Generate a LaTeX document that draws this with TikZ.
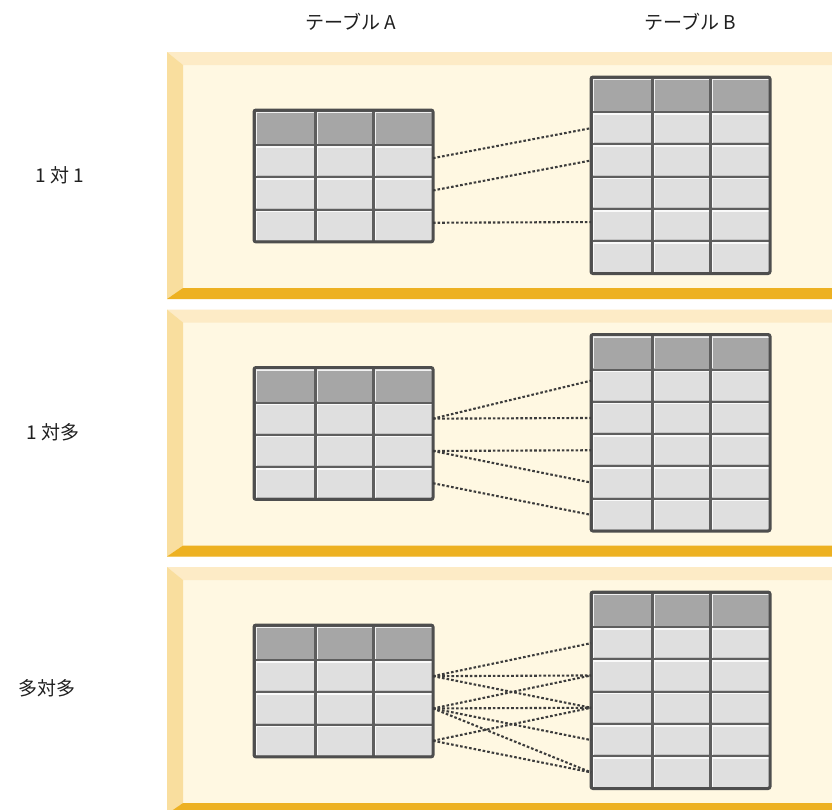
\documentclass[tikz,border=0pt]{standalone}
\usepackage{fontspec}
\setmainfont{Noto Sans CJK JP}
\definecolor{cream}{HTML}{FFF8E2}
\definecolor{topband}{HTML}{FDEBC6}
\definecolor{leftband}{HTML}{F9DE9E}
\definecolor{botband}{HTML}{EDB122}
\definecolor{hdrcell}{HTML}{A6A6A6}
\definecolor{bodycell}{HTML}{DFDFDF}
\definecolor{gridc}{HTML}{5E5E5E}
\definecolor{borderc}{HTML}{4E4E4E}
\definecolor{linkc}{HTML}{3C3C3C}
\definecolor{txtc}{HTML}{202020}
\tikzset{
  lbl/.style={font=\fontsize{19}{22}\selectfont, text=txtc, inner sep=0pt},
  link/.style={draw=linkc, line width=2.1pt, dash pattern=on 2.6pt off 2pt},
  tblborder/.style={draw=borderc, line width=3pt, rounded corners=2pt},
  hilite/.style={draw=white, line width=1.6pt, opacity=0.85},
  shade/.style={draw=black, line width=1pt, opacity=0.12}
}
% #1 name, #2 x, #3 y, #4 number of body rows
\newcommand\mktable[4]{%
  \begin{scope}[shift={(#2,#3)}]
    \pgfmathsetmacro\tblh{35+32.3*#4}
    \fill[gridc, rounded corners=2pt] (0,0) rectangle (179,\tblh);
    \foreach \xa/\xb in {0/61,61/119,119/179} {
      \fill[hdrcell] (\xa+1.5,1.5) rectangle (\xb-1,34);
      \draw[hilite] (\xa+2.3,33.5) -- (\xa+2.3,2.3) -- (\xb-1.5,2.3);
      \foreach \r in {1,...,#4} {
        \pgfmathsetmacro\ya{35+32.3*(\r-1)}
        \pgfmathsetmacro\yb{35+32.3*\r}
        \fill[bodycell] (\xa+1.5,\ya+1) rectangle (\xb-1,\yb-1);
        \draw[shade] (\xa+1.5,\yb-1.5) -- (\xb-1,\yb-1.5);
        \draw[hilite] (\xa+2.3,\yb-1.5) -- (\xa+2.3,\ya+1.8) -- (\xb-1.5,\ya+1.8);
      }
    }
    \foreach \r in {1,...,#4} {
      \pgfmathsetmacro\yc{35+32.3*(\r-0.5)}
      \coordinate (#1L\r) at (0,\yc);
      \coordinate (#1R\r) at (179,\yc);
    }
    \draw[tblborder] (0,0) rectangle (179,\tblh);
  \end{scope}}
% #1 top y
\newcommand\mkpanel[1]{%
  \begin{scope}[shift={(0,#1)}]
    \fill[cream] (167,0) rectangle (840,247);
    \fill[topband] (167,0) -- (840,0) -- (840,13) -- (183,13) -- cycle;
    \fill[leftband] (167,0) -- (183,13) -- (183,236) -- (167,247) -- cycle;
    \fill[botband] (167,247) -- (840,247) -- (840,236) -- (183,236) -- cycle;
  \end{scope}}
\begin{document}
\begin{tikzpicture}[x=1pt,y=-1pt]
  \clip (0,0) rectangle (832,809);
  \fill[white] (0,0) rectangle (832,809);

  \mkpanel{52}
  \mkpanel{309.5}
  \mkpanel{567}

  \node[lbl] (hdrA) at (351,22) {テーブル A};
  \node[lbl] (hdrB) at (690,22) {テーブル B};
  \node[lbl] (rel1) at (60,175) {1 対 1};
  \node[lbl] (rel2) at (53,432) {1 対多};
  \node[lbl] (rel3) at (47,688) {多対多};

  % panel 1: one to one
  \mktable{pa}{254}{110}{3}
  \mktable{pb}{591}{77}{5}
  \draw[link] ([yshift=3pt]paR1) -- (pbL1);
  \draw[link] ([yshift=3pt]paR2) -- (pbL2);
  \draw[link] ([yshift=3pt]paR3) -- ([yshift=3pt]pbL4);

  % panel 2: one to many
  \mktable{qa}{254}{367.5}{3}
  \mktable{qb}{591}{334.5}{5}
  \draw[link] (qaR1) -- ([yshift=5pt]qbL1);
  \draw[link] (qaR1) -- (qbL2);
  \draw[link] (qaR2) -- (qbL3);
  \draw[link] (qaR2) -- (qbL4);
  \draw[link] (qaR3) -- (qbL5);

  % panel 3: many to many
  \mktable{ra}{254}{625}{3}
  \mktable{rb}{591}{592}{5}
  \draw[link] (raR1) -- (rbL1);
  \draw[link] (raR1) -- (rbL2);
  \draw[link] (raR1) -- (rbL3);
  \draw[link] (raR2) -- (rbL2);
  \draw[link] (raR2) -- (rbL3);
  \draw[link] (raR2) -- (rbL4);
  \draw[link] (raR2) -- (rbL5);
  \draw[link] (raR3) -- (rbL3);
  \draw[link] (raR3) -- (rbL5);
\end{tikzpicture}
\end{document}
